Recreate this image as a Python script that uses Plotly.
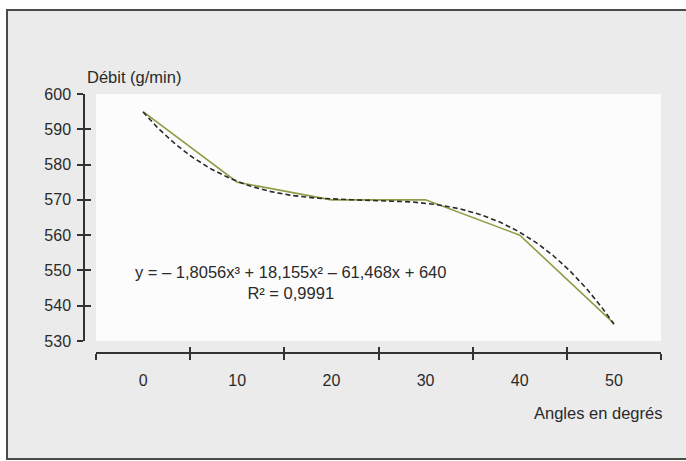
import numpy as np
import plotly.graph_objects as go

categories = ["0", "10", "20", "30", "40", "50"]
debit = [595, 575, 570, 570, 560, 535]
y_ticks = [530, 540, 550, 560, 570, 580, 590, 600]
equation_text = "y = – 1,8056x³ + 18,155x² – 61,468x + 640<br>R² = 0,9991"
y_title = "Débit (g/min)"
x_title = "Angles en degrés"

W, H = 686, 461
L, R, T, B = 84, 25, 94, 108
pw = W - L - R
ph = H - T - B


def px(x):
    return (x - L) / pw


def py(y):
    return (H - B - y) / ph


xpos = np.arange(1, len(categories) + 1)
bounds = np.arange(0.5, len(categories) + 1, 1.0)
coef = np.polyfit(xpos, debit, 3)
xs = np.linspace(1, len(categories), 200)
ys = np.polyval(coef, xs)

FONT = "Liberation Sans, Arial, Helvetica, sans-serif"
TXT = "#2a2a2a"
AX = "#333333"
FRAME = "#4a4a4a"

fig = go.Figure()
fig.add_trace(go.Scatter(x=xpos, y=debit, mode="lines",
                         line=dict(color="#8f9c45", width=1.6),
                         showlegend=False, hoverinfo="skip"))
fig.add_trace(go.Scatter(x=xs, y=ys, mode="lines",
                         line=dict(color="#2b2b2b", width=1.6, dash="5px,3px"),
                         showlegend=False, hoverinfo="skip"))
# invisible traces carrying the overlay axes used for crossing ticks
fig.add_trace(go.Scatter(x=xpos, y=debit, xaxis="x2", yaxis="y2", mode="lines",
                         opacity=0, showlegend=False, hoverinfo="skip"))
fig.add_trace(go.Scatter(x=xpos, y=debit, xaxis="x3", yaxis="y2", mode="lines",
                         opacity=0, showlegend=False, hoverinfo="skip"))

xdom = [px(96), 1]
ydom = [py(341), 1]
xr = [0.5, len(categories) + 0.5]
yr = [min(y_ticks), max(y_ticks)]

fig.update_layout(
    width=W, height=H,
    margin=dict(l=L, r=R, t=T, b=B),
    paper_bgcolor="#ebebeb",
    plot_bgcolor="#fcfcfc",
    font=dict(family=FONT, size=16, color=TXT),
    showlegend=False,
    xaxis=dict(domain=xdom, range=xr, anchor="free", position=0,
               tickmode="array", tickvals=xpos, ticktext=categories,
               ticks="", showline=True, linecolor=AX, linewidth=1.5,
               showgrid=False, zeroline=False, ticklabelstandoff=13,
               tickfont=dict(size=16, color=TXT)),
    xaxis2=dict(domain=xdom, range=xr, overlaying="x", anchor="free", position=0,
                tickmode="array", tickvals=bounds, ticks="outside", ticklen=6,
                tickwidth=1.5, tickcolor=AX, showticklabels=False,
                showline=False, showgrid=False, zeroline=False),
    xaxis3=dict(domain=xdom, range=xr, overlaying="x", anchor="free", position=0,
                tickmode="array", tickvals=bounds, ticks="inside", ticklen=6,
                tickwidth=1.5, tickcolor=AX, showticklabels=False,
                showline=False, showgrid=False, zeroline=False),
    yaxis=dict(domain=ydom, range=yr, anchor="free", position=0,
               tickmode="array", tickvals=y_ticks,
               ticks="outside", ticklen=6, tickwidth=1.5, tickcolor=AX,
               showline=True, linecolor=AX, linewidth=1.5,
               showgrid=False, zeroline=False, ticklabelstandoff=3,
               tickfont=dict(size=16, color=TXT)),
    yaxis2=dict(domain=ydom, range=yr, overlaying="y", anchor="free", position=0,
                tickmode="array", tickvals=y_ticks,
                ticks="inside", ticklen=6, tickwidth=1.5, tickcolor=AX,
                showticklabels=False, showline=False, showgrid=False, zeroline=False),
    shapes=[
        dict(type="rect", xref="paper", yref="paper", x0=px(-20), x1=px(6),
             y0=py(480), y1=py(-20), fillcolor="white", line=dict(width=0), layer="below"),
        dict(type="rect", xref="paper", yref="paper", x0=px(-20), x1=px(720),
             y0=py(9), y1=py(-20), fillcolor="white", line=dict(width=0), layer="below"),
        dict(type="rect", xref="paper", yref="paper", x0=px(-20), x1=px(720),
             y0=py(480), y1=py(460), fillcolor="white", line=dict(width=0), layer="below"),
        dict(type="line", xref="paper", yref="paper", x0=px(6), x1=px(700),
             y0=py(10), y1=py(10), line=dict(color=FRAME, width=2), layer="below"),
        dict(type="line", xref="paper", yref="paper", x0=px(6), x1=px(700),
             y0=py(459), y1=py(459), line=dict(color=FRAME, width=2), layer="below"),
        dict(type="line", xref="paper", yref="paper", x0=px(7), x1=px(7),
             y0=py(459), y1=py(10), line=dict(color=FRAME, width=2), layer="below"),
    ],
    annotations=[
        dict(text=y_title, xref="paper", yref="paper", x=px(85), y=py(77),
             xanchor="left", yanchor="middle", showarrow=False,
             font=dict(size=16.5, color=TXT)),
        dict(text=x_title, xref="paper", yref="paper", x=px(664), y=py(413),
             xanchor="right", yanchor="middle", showarrow=False,
             font=dict(size=16.5, color=TXT)),
        dict(text=equation_text, xref="paper", yref="paper", x=px(290), y=py(282),
             xanchor="center", yanchor="middle", align="center", showarrow=False,
             font=dict(size=16.5, color=TXT)),
    ],
)

fig.write_html("out.html", config={"displayModeBar": False},
               post_script="document.body.style.margin='0';document.body.style.padding='0';")
